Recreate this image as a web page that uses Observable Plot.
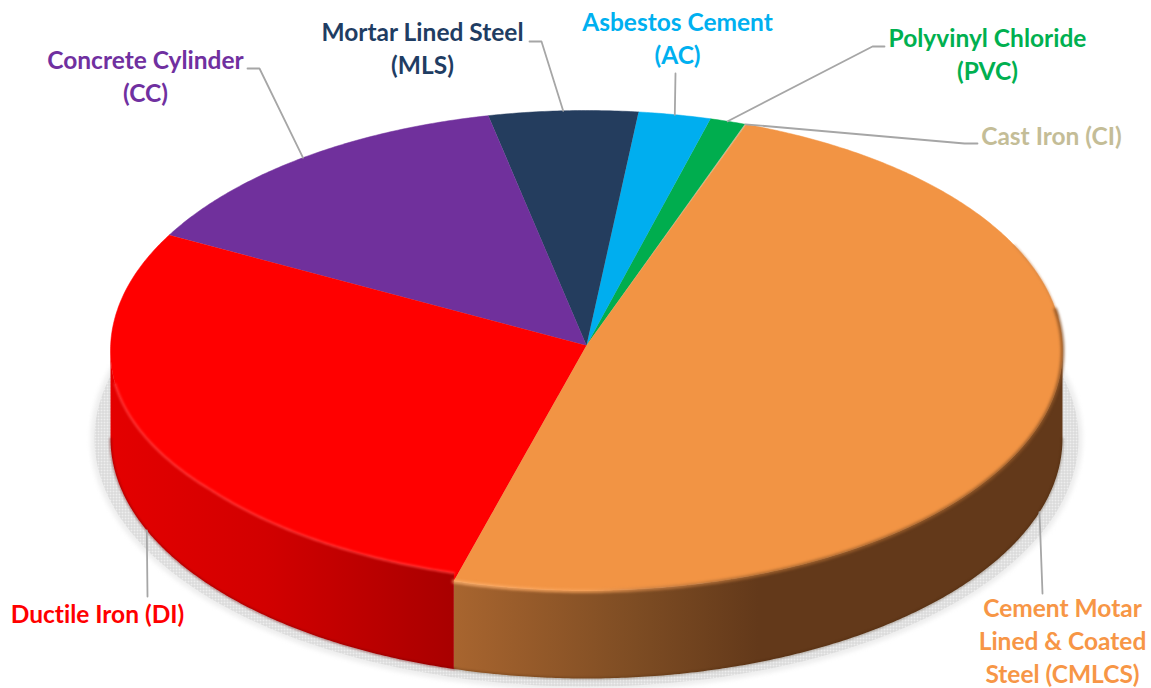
<!DOCTYPE html>
<html>
<head>
<meta charset="utf-8">
<style>html,body{margin:0;padding:0;background:#fff;overflow:hidden}svg text{font-variant-ligatures:none}</style>
<script src="https://cdn.jsdelivr.net/npm/d3@7"></script>
<script src="https://cdn.jsdelivr.net/npm/@observablehq/plot@0.6"></script>
</head>
<body>
<script>
// Data: share of the pipe network, percent, clockwise
const names = ["CMLCS", "DI", "CC", "MLS", "AC", "PVC", "CI"];
const shares = [49.05, 28.5, 13.7, 5.05, 2.45, 1.2, 0.05];
const colors = ["#f29444", "#ff0000", "#70309c", "#243d5e", "#00aeef", "#00ad4e", "#c4bd97"];
const labels = [
  "Cement Motar\nLined & Coated\nSteel (CMLCS)",
  "Ductile Iron (DI)",
  "Concrete Cylinder\n(CC)",
  "Mortar Lined Steel\n(MLS)",
  "Asbestos Cement\n(AC)",
  "Polyvinyl Chloride\n(PVC)",
  "Cast Iron (CI)"
];
const labelColors = ["#f79646", "#ff0000", "#7030a0", "#1f3d63", "#00b0f0", "#00b050", "#c4bd97"];

// Layout of the pseudo-3D disc and the annotations
const pie = {cx: 586, cy: 350, rx: 476, ry: 240, apexY: 345, depth: 88, start: 19.6};
const labelX = [1062, 97, 145, 422, 677, 987, 1051];
const labelY = [639, 612, 74, 46, 36, 52, 134];
const elbows = [
  [[1042, 593]],
  [[147, 596]],
  [[259, 68], [247, 68]],
  [[541, 41], [529, 41]],
  [[675, 73]],
  [[872, 46], [884, 46]],
  [[964, 143], [977, 143]]
];
const startDrop = [true, true, false, false, false, false, false];

const rad = (t) => (t * Math.PI) / 180;
const rim = (t, dy = 0) => ({
  x: pie.cx + pie.rx * Math.sin(rad(t)),
  y: pie.cy - pie.ry * Math.cos(rad(t)) + dy
});
const arc = (a, b, dy = 0) => {
  const n = Math.max(2, Math.ceil(Math.abs(b - a) * 2));
  return d3.range(n + 1).map((i) => rim(a + ((b - a) * i) / n, typeof dy === "function" ? dy(a + ((b - a) * i) / n) : dy));
};

const total = d3.sum(shares);
let acc = pie.start;
const slices = names.map((name, i) => {
  const a = acc;
  acc += (shares[i] / total) * 360;
  return {name, a, b: acc, mid: (a + acc) / 2};
});

// smallest slice first, so the hairline of CI sits under its neighbour
const topFaces = [...slices].reverse().flatMap((s) =>
  [{x: pie.cx, y: pie.apexY}, ...arc(s.a, s.b)].map((p) => ({...p, name: s.name}))
);
const side = (a, b) => [...arc(a, b), ...arc(b, a, pie.depth)];
const [cmlcs, di] = slices;
// the red wall rises a little above the ideal ellipse on the front-left
const redLift = (t) => -8 * Math.min(1, Math.max(0, (262 - t) / 30));
const redBand = [...arc(di.a, 262, redLift), ...arc(262, di.a, 2)];
const leaders = slices.flatMap((s, i) =>
  [rim(s.mid, startDrop[i] ? pie.depth : 0), ...elbows[i].map(([x, y]) => ({x, y}))].map((p) => ({...p, name: s.name}))
);
const ellipse = (cy, rx, ry) => d3.range(0, 361, 2).map((t) => ({
  x: pie.cx + rx * Math.sin(rad(t)),
  y: cy - ry * Math.cos(rad(t))
}));
const shadowSoft = ellipse(438, 496, 252);
const shadowDots = ellipse(438, 492, 248);

const gradient = (defs, id, x1, x2, stops) => {
  const g = defs.append("linearGradient").attr("id", id)
    .attr("gradientUnits", "userSpaceOnUse")
    .attr("x1", x1).attr("x2", x2).attr("y1", 0).attr("y2", 0);
  stops.forEach(([o, c]) => g.append("stop").attr("offset", o).attr("stop-color", c));
};
const defsMark = () => {
  const defs = d3.create("svg:defs");
  gradient(defs, "sideRed", 110, 454, [[0, "#e40000"], [0.45, "#d20000"], [1, "#a80000"]]);
  gradient(defs, "sideOrange", 454, 1062, [[0, "#a8652f"], [0.3, "#7d4c23"], [0.5, "#63391a"], [1, "#63391a"]]);
  gradient(defs, "rimOrange", 454, 1062, [[0, "#fdb06e"], [0.22, "#f9a257"], [0.32, "#c98045"], [0.5, "#a5652f"], [1, "#8f5526"]]);
  const p = defs.append("pattern").attr("id", "halftone")
    .attr("patternUnits", "userSpaceOnUse").attr("width", 3).attr("height", 3);
  p.append("rect").attr("width", 3).attr("height", 1).attr("fill", "#d6d6d6");
  p.append("rect").attr("width", 1).attr("height", 3).attr("fill", "#d6d6d6");
  return defs.node();
};

const line = (d, o) => Plot.line(d, {x: "x", y: "y", ...o});

const chart = Plot.plot({
  width: 1151,
  height: 688,
  margin: 0,
  x: {domain: [0, 1151], range: [0, 1151], axis: null},
  y: {domain: [0, 688], range: [0, 688], axis: null},
  color: {domain: names, range: colors},
  style: {background: "#fff", display: "block"},
  marks: [
    defsMark,
    line(shadowSoft, {fill: "#eeeeee", stroke: "none", imageFilter: "blur(2px)"}),
    line(shadowDots, {fill: "url(#halftone)", stroke: "none"}),
    line(side(90, cmlcs.b), {fill: "url(#sideOrange)", stroke: "none"}),
    line(side(di.a, 270), {fill: "url(#sideRed)", stroke: "none"}),
    line(arc(90, cmlcs.b, pie.depth), {stroke: "#3f2208", strokeWidth: 2, strokeOpacity: 0.35, imageFilter: "blur(1px)"}),
    line(arc(di.a, 270, pie.depth), {stroke: "#700000", strokeWidth: 2, strokeOpacity: 0.5, imageFilter: "blur(1px)"}),
    line(topFaces, {z: "name", fill: "name", stroke: "name", strokeWidth: 0.5, curve: "linear"}),
    line(redBand, {fill: "url(#sideRed)", stroke: "none"}),
    line(arc(di.a, 262, redLift), {stroke: "#ff3a3a", strokeWidth: 2, imageFilter: "blur(1px)"}),
    line(arc(64, 82, 0), {stroke: "#c98045", strokeWidth: 1.5, strokeOpacity: 0.7, imageFilter: "blur(1px)"}),
    line(arc(80, cmlcs.b, 0.5), {stroke: "url(#rimOrange)", strokeWidth: 3, imageFilter: "blur(1.5px)"}),
    line(leaders, {z: "name", stroke: "#a6a6a6", strokeWidth: 1.8, curve: "linear"}),
    Plot.text(labels, {
      x: (_, i) => labelX[i],
      y: (_, i) => labelY[i],
      text: (d) => d,
      fill: (_, i) => labelColors[i],
      fontFamily: "Lato",
      fontWeight: 700,
      fontSize: 24.5,
      lineHeight: 1.347,
      textAnchor: "middle"
    })
  ]
});
document.body.append(chart);
</script>
</body>
</html>
